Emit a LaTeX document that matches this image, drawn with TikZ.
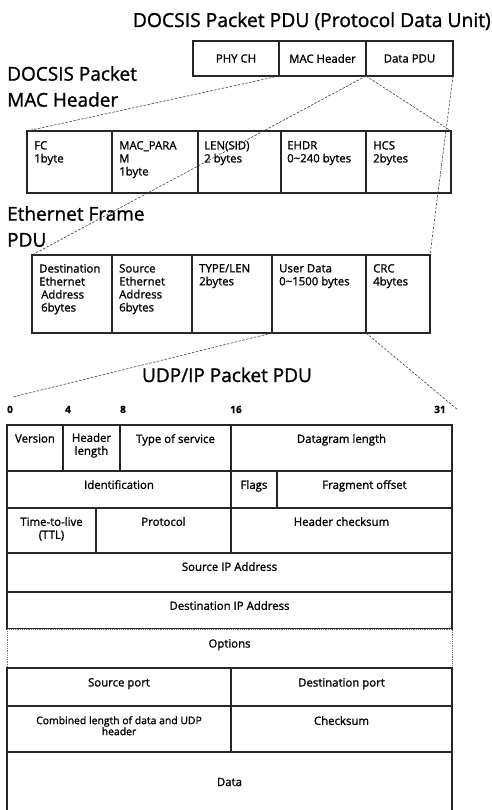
\documentclass[tikz,border=0pt]{standalone}
\usepackage{fontspec}
\setmainfont{Open Sans}[FakeBold=1.2]
\usepackage{tikz}
\usetikzlibrary{positioning}

\newcommand{\cellfont}{\fontsize{11.4}{13}\selectfont}

\begin{document}
\begin{tikzpicture}[x=1pt, y=-1pt]
\tikzset{
  field/.style={draw=black!85, line width=1.2pt, inner sep=0pt, outer sep=0pt,
    anchor=north west, font=\cellfont},
  pdurow/.style={field, minimum height=35pt},
  macrow/.style={field, minimum height=62pt},
  ethrow/.style={field, minimum height=78pt},
  optrow/.style={field, draw=black!55, densely dotted, line width=0.8pt, fill=white},
  lt/.style={anchor=north west, align=left, inner sep=0pt, xshift=7pt, yshift=-10pt, font=\cellfont},
  ct/.style={anchor=north, align=center, inner sep=0pt, yshift=-9pt, font=\cellfont},
  sect/.style={inner sep=0pt, align=left, font=\fontsize{19}{26}\selectfont},
  bits/.style={inner sep=0pt, anchor=base, font=\bfseries\fontsize{10}{12}\selectfont},
  guide/.style={draw=black!75, line width=0.6pt, dash pattern=on 2.5pt off 1.5pt}
}
\useasboundingbox[fill=white] (0,0) rectangle (491,810);

% DOCSIS packet
\node[sect, anchor=base east, font=\fontsize{19.3}{24}\selectfont] (title) at (491,27) {DOCSIS Packet PDU (Protocol Data Unit)};
\node[pdurow, minimum width=86pt] (phy) at (193,41) {PHY CH};
\node[pdurow, minimum width=87pt, right=0pt of phy] (mach) {MAC Header};
\node[pdurow, minimum width=87pt, right=0pt of mach] (datapdu) {Data PDU};

% MAC header
\node[sect, anchor=north west] (maclbl) at (7,66) {DOCSIS Packet\\MAC Header};
\node[macrow, minimum width=85pt, label={[lt]north west:{FC\\1byte}}] (fc) at (27,131) {};
\node[macrow, minimum width=86pt, right=0pt of fc, label={[lt]north west:{MAC\_PARA\\M\\1byte}}] (macpara) {};
\node[macrow, minimum width=83pt, right=0pt of macpara, label={[lt, xshift=-1pt]north west:{LEN(SID)\\2 bytes}}] (len) {};
\node[macrow, minimum width=85pt, right=0pt of len, label={[lt, xshift=-1pt]north west:{EHDR\\0\textasciitilde240 bytes}}] (ehdr) {};
\node[macrow, minimum width=85pt, right=0pt of ehdr, label={[lt]north west:{HCS\\2bytes}}] (hcs) {};

% Ethernet frame
\node[sect, anchor=north west] (ethlbl) at (7,206) {Ethernet Frame\\PDU};
\node[ethrow, minimum width=80pt, label={[lt, yshift=1pt]north west:{Destination\\Ethernet\\\hspace{2pt}Address\\\hspace{2pt}6bytes}}] (dst) at (32,255) {};
\node[ethrow, minimum width=80pt, right=0pt of dst, label={[lt, yshift=1pt]north west:{Source\\Ethernet\\Address\\6bytes}}] (src) {};
\node[ethrow, minimum width=80pt, right=0pt of src, label={[lt, yshift=1pt]north west:{TYPE/LEN\\2bytes}}] (typelen) {};
\node[ethrow, minimum width=94pt, right=0pt of typelen, label={[lt, yshift=1pt]north west:{User Data\\0\textasciitilde1500 bytes}}] (user) {};
\node[ethrow, minimum width=64pt, right=0pt of user, label={[lt, yshift=1pt]north west:{CRC\\4bytes}}] (crc) {};

% UDP/IP packet
\node[sect, anchor=base] (udplbl) at (227,382) {UDP/IP Packet PDU};
\node[bits] (b0) at (10,413) {0};
\node[bits] (b4) at (68,413) {4};
\node[bits] (b8) at (123,413) {8};
\node[bits] (b16) at (236,413) {16};
\node[bits] (b31) at (440,413) {31};

\node[field, minimum height=46pt, minimum width=56pt, label={[ct]north:Version}] (ver) at (7,425) {};
\node[field, minimum height=46pt, minimum width=57pt, right=0pt of ver, label={[ct, yshift=1pt]north:{Header\\length}}] (hlen) {};
\node[field, minimum height=46pt, minimum width=111pt, right=0pt of hlen, label={[ct]north:Type of service}] (tos) {};
\node[field, minimum height=46pt, minimum width=221pt, right=0pt of tos, label={[ct]north:Datagram length}] (dlen) {};

\node[field, minimum height=37pt, minimum width=224pt, label={[ct]north:Identification}] (ident) at (ver.south west) {};
\node[field, minimum height=37pt, minimum width=46pt, right=0pt of ident, label={[ct]north:Flags}] (flags) {};
\node[field, minimum height=37pt, minimum width=175pt, right=0pt of flags, label={[ct]north:Fragment offset}] (frag) {};

\node[field, minimum height=45pt, minimum width=89pt, label={[ct]north:{Time-to-live\\(TTL)}}] (ttl) at (ident.south west) {};
\node[field, minimum height=45pt, minimum width=135pt, right=0pt of ttl, label={[ct]north:Protocol}] (proto) {};
\node[field, minimum height=45pt, minimum width=221pt, right=0pt of proto, label={[ct]north:Header checksum}] (hchk) {};

\node[field, minimum height=39pt, minimum width=445pt, label={[ct]north:Source IP Address}] (srcip) at (ttl.south west) {};
\node[field, minimum height=37pt, minimum width=445pt, label={[ct]north:Destination IP Address}] (dstip) at (srcip.south west) {};
\node[optrow, minimum height=39pt, minimum width=445pt, label={[ct, yshift=-1pt]north:Options}] (opts) at (dstip.south west) {};

\node[field, minimum height=38pt, minimum width=224pt, label={[ct, yshift=-1pt]north:Source port}] (sport) at (opts.south west) {};
\node[field, minimum height=38pt, minimum width=221pt, right=0pt of sport, label={[ct, yshift=-1pt]north:Destination port}] (dport) {};
\node[field, minimum height=46pt, minimum width=224pt, label={[ct, yshift=-1pt, font=\fontsize{10.4}{11}\selectfont]north:{Combined length of data and UDP\\header}}] (ulen) at (sport.south west) {};
\node[field, minimum height=46pt, minimum width=221pt, right=0pt of ulen, label={[ct, yshift=-1pt]north:Checksum}] (uchk) {};
\node[field, minimum height=60pt, minimum width=445pt] (data) at (ulen.south west) {Data};

% dashed guides between layers
\coordinate (ipl) at (13,397);
\coordinate (ipr) at (458,410);
\draw[guide] (mach.south west) -- (fc.north west);
\draw[guide] (mach.south east) -- (hcs.north east);
\draw[guide] (datapdu.south west) -- (dst.north west);
\draw[guide] (datapdu.south east) -- (crc.north east);
\draw[guide] (user.south west) -- (ipl);
\draw[guide] (user.south east) -- (ipr);
\end{tikzpicture}
\end{document}
